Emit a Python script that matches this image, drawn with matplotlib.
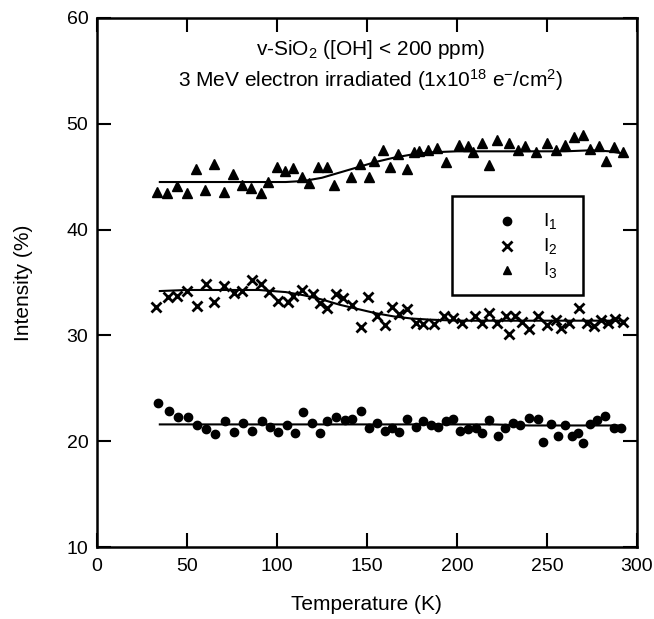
import matplotlib
matplotlib.use("Agg")
import matplotlib.pyplot as plt
from matplotlib.patches import Rectangle

plt.rcParams["font.family"] = ["Liberation Sans", "DejaVu Sans"]
plt.rcParams["mathtext.default"] = "regular"

# I1 (circles)
t1 = [34, 40, 45, 50.5, 55.5, 60.5, 65.5, 71, 76, 81, 86, 91.6, 96, 100.6, 105.6, 110,
      114.4, 119.4, 124, 128, 133, 138, 142, 147, 151, 155.6, 160, 164, 168, 172, 177,
      181, 185.5, 189.5, 194, 198, 201.7, 206, 210.6, 214, 218, 222.8, 226.7, 231,
      235, 240, 245, 248, 252, 256, 260, 264, 267, 270, 274, 278, 282, 287, 291]
i1 = [23.6, 22.9, 22.3, 22.3, 21.5, 21.2, 20.7, 21.9, 20.9, 21.7, 21.0, 21.9, 21.4, 20.9,
      21.5, 20.8, 22.8, 21.7, 20.8, 21.9, 22.3, 22.0, 22.1, 22.9, 21.3, 21.7, 21.0, 21.3,
      20.9, 22.1, 21.4, 21.9, 21.5, 21.4, 21.9, 22.1, 21.0, 21.2, 21.3, 20.8, 22.0, 20.5,
      21.3, 21.7, 21.5, 22.2, 22.1, 19.9, 21.6, 20.5, 21.5, 20.5, 20.8, 19.8, 21.6, 22.0,
      22.4, 21.3, 21.3]

# I2 (crosses)
t2 = [33, 39.5, 44.4, 50, 55.5, 60.5, 65, 70.5, 76, 80.6, 86, 91, 95.5, 100.6, 106, 109,
      114, 120, 124, 128, 133, 137, 141.7, 147, 150.6, 155.6, 160, 164, 168, 172, 177,
      181, 187, 193, 198, 203, 210, 214, 218, 222, 227, 229, 232, 236, 240, 245, 250,
      255, 258, 262, 268, 272, 276, 280, 284, 288, 292]
i2 = [32.7, 33.6, 33.7, 34.2, 32.8, 34.9, 33.2, 34.7, 34.0, 34.2, 35.2, 34.9, 34.1, 33.3,
      33.2, 33.7, 34.3, 33.9, 33.1, 32.6, 33.9, 33.5, 32.9, 30.8, 33.6, 31.8, 31.0, 32.7,
      32.0, 32.5, 31.2, 31.1, 31.1, 31.8, 31.7, 31.2, 31.8, 31.2, 32.1, 31.2, 31.8, 30.1,
      31.8, 31.3, 30.6, 31.8, 31.0, 31.5, 30.7, 31.2, 32.6, 31.2, 30.9, 31.5, 31.2, 31.6,
      31.3]

# I3 (triangles)
t3 = [33.3, 38.9, 44.4, 50, 55, 60, 65, 70.5, 75.6, 80.6, 85.6, 91, 95, 100, 104.4,
      108.9, 114, 118, 123, 128, 132, 141, 146, 151, 154, 159, 163, 167, 172, 176, 179,
      184, 189, 194, 201, 206, 209, 214, 218, 222, 229, 234, 238, 244, 250, 255, 260,
      265, 270, 274, 279, 283, 287, 292]
i3 = [43.6, 43.5, 44.1, 43.5, 45.7, 43.7, 46.2, 43.6, 45.3, 44.2, 43.9, 43.5, 44.5, 45.9,
      45.5, 45.8, 45.0, 44.4, 45.9, 45.9, 44.2, 45.0, 46.2, 45.0, 46.5, 47.5, 45.9, 47.1,
      45.7, 47.3, 47.4, 47.5, 47.7, 46.4, 48.0, 47.9, 47.3, 48.2, 46.1, 48.5, 48.2, 47.5,
      47.9, 47.3, 48.2, 47.5, 48.0, 48.8, 48.9, 47.6, 47.9, 46.5, 47.8, 47.3]

# fitted curves
fit_t = [35, 50, 70, 90, 105, 115, 125, 135, 145, 155, 165, 175, 185, 200, 220, 240,
         260, 275, 285, 292]
fit1 = [21.6, 21.6, 21.6, 21.6, 21.6, 21.6, 21.6, 21.6, 21.6, 21.6, 21.6, 21.6, 21.6,
        21.6, 21.6, 21.5, 21.5, 21.5, 21.5, 21.5]
fit2 = [34.2, 34.3, 34.3, 34.3, 34.1, 33.8, 33.4, 32.9, 32.5, 32.1, 31.8, 31.6, 31.5,
        31.4, 31.4, 31.4, 31.4, 31.4, 31.4, 31.4]
fit3 = [44.5, 44.5, 44.5, 44.5, 44.5, 44.6, 44.9, 45.4, 45.9, 46.4, 46.8, 47.1, 47.3,
        47.4, 47.4, 47.4, 47.4, 47.5, 47.4, 47.2]

legend_labels = ["$I_1$", "$I_2$", "$I_3$"]
legend_markers = ["o", "x", "^"]

fig = plt.figure(figsize=(6.54, 6.19), dpi=100)
ax = fig.add_axes([0.148, 0.116, 0.826, 0.855])

for f in (fit1, fit2, fit3):
    ax.plot(fit_t, f, color="black", lw=1.5)
ax.plot(t1, i1, "o", color="black", ms=6)
ax.plot(t2, i2, "x", color="black", ms=7, mew=2)
ax.plot(t3, i3, "^", color="black", ms=7)

ax.set_xlim(0, 300)
ax.set_ylim(10, 60)
ax.set_xticks([0, 50, 100, 150, 200, 250, 300])
ax.set_yticks([10, 20, 30, 40, 50, 60])
ax.tick_params(direction="in", length=10, width=1.5, labelsize=14, top=True, right=True)
ax.tick_params(axis="x", pad=8)
ax.tick_params(axis="y", pad=6)
for s in ax.spines.values():
    s.set_linewidth(1.8)

ax.set_xlabel("Temperature (K)", fontsize=15, labelpad=14)
ax.set_ylabel("Intensity (%)", fontsize=15, labelpad=24)

ax.text(152, 57.0, "v-SiO$_2$ ([OH] < 200 ppm)", ha="center", va="center", fontsize=15)
ax.text(152, 54.1, "3 MeV electron irradiated (1x10$^{18}$ e$^{-}$/cm$^2$)",
        ha="center", va="center", fontsize=15)

# legend box drawn by hand to match the framed key
ax.add_patch(Rectangle((197, 33.8), 73, 9.4, fill=False, lw=1.8, ec="black", zorder=3))
for k, (lab, mk) in enumerate(zip(legend_labels, legend_markers)):
    yy = 40.8 - 2.3 * k
    ax.plot([228], [yy], mk, color="black", ms=6 if mk != "x" else 6.5,
            mew=2 if mk == "x" else 1, zorder=4)
    ax.text(248, yy, lab, ha="left", va="center", fontsize=14)

fig.savefig("out.png", dpi=100)
